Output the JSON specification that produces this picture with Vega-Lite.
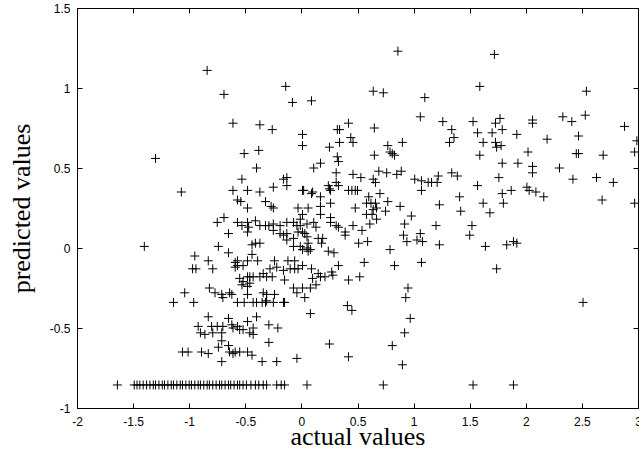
{
"$schema": "https://vega.github.io/schema/vega-lite/v6.json",
"width": 561, "height": 400,
"autosize": {"type": "none"},
"padding": {"left": 77, "top": 8, "right": 1, "bottom": 45},
"background": "white",
"config": {"view": {"stroke": "black", "strokeWidth": 1}, "axis": {"grid": false, "domain": false, "tickColor": "black", "tickSize": 5, "offset": -5, "tickWidth": 1, "labelFont": "Liberation Sans", "labelFontSize": 12, "labelColor": "black", "labelFlush": false, "labelOverlap": false, "titleFont": "Liberation Serif", "titleFontSize": 26, "titleFontWeight": "normal", "titleColor": "black"}},
"data": {"values": [
{"x":-0.84,"y":1.11},{"x":-0.69,"y":0.96},{"x":-0.14,"y":1.01},{"x":-0.08,"y":0.91},{"x":0.09,"y":0.92},{"x":0.86,"y":1.23},{"x":1.72,"y":1.21},{"x":1.59,"y":1.01},{"x":2.54,"y":0.98},{"x":0.64,"y":0.98},{"x":0.73,"y":0.97},{"x":1.10,"y":0.94},{"x":1.06,"y":0.82},{"x":2.53,"y":0.83},{"x":-0.61,"y":0.78},{"x":-0.37,"y":0.77},{"x":-0.26,"y":0.74},{"x":0.42,"y":0.78},{"x":0.32,"y":0.74},{"x":0.34,"y":0.74},{"x":0.65,"y":0.75},{"x":1.26,"y":0.79},{"x":1.34,"y":0.74},{"x":1.53,"y":0.79},{"x":1.73,"y":0.78},{"x":1.77,"y":0.81},{"x":1.79,"y":0.74},{"x":2.06,"y":0.80},{"x":2.06,"y":0.78},{"x":2.33,"y":0.82},{"x":2.41,"y":0.79},{"x":2.88,"y":0.76},{"x":0.01,"y":0.71},{"x":0.44,"y":0.69},{"x":0.46,"y":0.66},{"x":0.34,"y":0.66},{"x":0.25,"y":0.63},{"x":0.01,"y":0.64},{"x":0.77,"y":0.64},{"x":0.90,"y":0.66},{"x":1.36,"y":0.69},{"x":1.32,"y":0.66},{"x":1.57,"y":0.72},{"x":1.62,"y":0.66},{"x":1.70,"y":0.72},{"x":1.73,"y":0.66},{"x":1.78,"y":0.64},{"x":1.74,"y":0.63},{"x":1.92,"y":0.71},{"x":2.19,"y":0.68},{"x":2.47,"y":0.70},{"x":2.99,"y":0.67},{"x":2.97,"y":0.60},{"x":2.02,"y":0.60},{"x":2.45,"y":0.59},{"x":2.47,"y":0.59},{"x":2.69,"y":0.58},{"x":-0.51,"y":0.59},{"x":-0.38,"y":0.61},{"x":-1.30,"y":0.56},{"x":0.32,"y":0.57},{"x":0.33,"y":0.54},{"x":0.65,"y":0.58},{"x":0.79,"y":0.60},{"x":0.81,"y":0.59},{"x":0.83,"y":0.58},{"x":1.59,"y":0.58},
{"x":-0.40,"y":0.50},{"x":0.11,"y":0.50},{"x":0.17,"y":0.53},{"x":-0.53,"y":0.43},{"x":-0.16,"y":0.43},{"x":-0.13,"y":0.44},{"x":-0.13,"y":0.39},{"x":0.31,"y":0.47},{"x":0.31,"y":0.41},{"x":-1.07,"y":0.35},{"x":-0.61,"y":0.36},{"x":-0.48,"y":0.36},{"x":-0.37,"y":0.35},{"x":-0.25,"y":0.38},{"x":0.01,"y":0.36},{"x":0.09,"y":0.34},{"x":0.10,"y":0.35},{"x":0.17,"y":0.32},{"x":0.25,"y":0.37},{"x":0.26,"y":0.36},{"x":-0.57,"y":0.30},{"x":-0.54,"y":0.29},{"x":-0.48,"y":0.25},{"x":-0.32,"y":0.29},{"x":-0.27,"y":0.26},{"x":-0.25,"y":0.25},{"x":-0.03,"y":0.25},{"x":0.06,"y":0.25},{"x":0.17,"y":0.26},{"x":0.26,"y":0.28},{"x":1.79,"y":0.53},{"x":1.93,"y":0.53},{"x":2.06,"y":0.51},{"x":2.06,"y":0.47},{"x":2.30,"y":0.50},{"x":0.46,"y":0.46},{"x":0.53,"y":0.44},{"x":0.64,"y":0.43},{"x":0.66,"y":0.41},{"x":0.69,"y":0.48},{"x":0.76,"y":0.47},{"x":0.85,"y":0.46},{"x":0.89,"y":0.48},{"x":1.01,"y":0.43},{"x":1.07,"y":0.42},{"x":1.13,"y":0.41},{"x":1.16,"y":0.41},{"x":1.21,"y":0.41},{"x":1.22,"y":0.45},{"x":1.07,"y":0.36},{"x":1.34,"y":0.47},{"x":1.39,"y":0.45},{"x":1.57,"y":0.39},{"x":1.76,"y":0.44},{"x":2.42,"y":0.43},{"x":2.63,"y":0.44},{"x":2.78,"y":0.41},{"x":0.24,"y":0.39},{"x":0.33,"y":0.39},{"x":0.42,"y":0.36},{"x":0.45,"y":0.36},{"x":0.48,"y":0.36},{"x":0.50,"y":0.36},{"x":0.60,"y":0.32},{"x":0.58,"y":0.28},{"x":0.62,"y":0.28},{"x":0.66,"y":0.28},{"x":0.67,"y":0.25},{"x":0.70,"y":0.34},{"x":0.77,"y":0.29},{"x":0.88,"y":0.26},{"x":1.23,"y":0.27},{"x":1.41,"y":0.32},{"x":1.62,"y":0.28},{"x":1.79,"y":0.34},{"x":1.87,"y":0.36},{"x":2.01,"y":0.38},{"x":2.03,"y":0.36},{"x":2.09,"y":0.35},{"x":2.16,"y":0.32},{"x":1.80,"y":0.28},{"x":2.68,"y":0.30},{"x":2.97,"y":0.28},{"x":0.48,"y":0.25},{"x":0.02,"y":0.36},
{"x":1.42,"y":0.23},{"x":1.68,"y":0.22},{"x":0.01,"y":0.21},{"x":0.17,"y":0.21},{"x":-0.01,"y":0.14},{"x":0.05,"y":0.15},{"x":0.11,"y":0.16},{"x":0.13,"y":0.13},{"x":0.01,"y":0.10},{"x":0.03,"y":0.09},{"x":0.26,"y":0.19},{"x":0.26,"y":0.16},{"x":0.31,"y":0.14},{"x":0.33,"y":0.13},{"x":0.46,"y":0.14},{"x":0.39,"y":0.10},{"x":0.39,"y":0.08},{"x":0.54,"y":0.11},{"x":0.58,"y":0.21},{"x":0.63,"y":0.21},{"x":0.64,"y":0.24},{"x":0.67,"y":0.18},{"x":0.75,"y":0.23},{"x":0.61,"y":0.15},{"x":0.92,"y":0.15},{"x":0.98,"y":0.20},{"x":1.20,"y":0.14},{"x":1.52,"y":0.14},{"x":1.50,"y":0.08},{"x":0.91,"y":0.08},{"x":0.94,"y":0.04},{"x":1.03,"y":0.05},{"x":1.06,"y":0.09},{"x":1.08,"y":0.04},{"x":1.23,"y":0.02},{"x":1.64,"y":0.01},{"x":1.83,"y":0.02},{"x":1.89,"y":0.04},{"x":1.92,"y":0.03},{"x":0.05,"y":0.07},{"x":0.06,"y":0.03},{"x":0.15,"y":0.06},{"x":0.19,"y":0.06},{"x":0.18,"y":0.03},{"x":0.01,"y":-0.01},{"x":0.06,"y":-0.02},{"x":0.24,"y":-0.02},{"x":0.29,"y":-0.03},{"x":0.51,"y":0.03},{"x":0.59,"y":0.04},{"x":0.79,"y":-0.01},{"x":-0.01,"y":0.18},{"x":-0.75,"y":0.16},{"x":-0.69,"y":0.19},{"x":-0.65,"y":0.09},{"x":-0.57,"y":0.16},{"x":-0.53,"y":0.14},{"x":-0.48,"y":0.16},{"x":-0.47,"y":0.13},{"x":-0.41,"y":0.17},{"x":-0.37,"y":0.14},{"x":-0.32,"y":0.14},{"x":-0.29,"y":0.14},{"x":-0.25,"y":0.15},{"x":-0.19,"y":0.14},{"x":-0.13,"y":0.16},{"x":-0.07,"y":0.16},{"x":-0.04,"y":0.14},{"x":-0.48,"y":0.10},{"x":-0.25,"y":0.11},{"x":-0.19,"y":0.09},{"x":-0.16,"y":0.08},{"x":-0.13,"y":0.09},{"x":-0.13,"y":0.05},{"x":-0.07,"y":0.06},{"x":-0.07,"y":0.01},{"x":-0.03,"y":0.10},{"x":-0.01,"y":0.01},{"x":0.05,"y":0.00},{"x":-0.74,"y":0.01},{"x":-0.44,"y":0.02},{"x":-0.41,"y":0.03},{"x":-0.37,"y":0.03},{"x":-1.40,"y":0.01},
{"x":-0.65,"y":-0.03},{"x":-0.95,"y":-0.05},{"x":-0.83,"y":-0.08},{"x":-0.79,"y":-0.13},{"x":-0.97,"y":-0.13},{"x":-0.94,"y":-0.13},{"x":-0.59,"y":-0.09},{"x":-0.57,"y":-0.08},{"x":-0.57,"y":-0.11},{"x":-0.59,"y":-0.12},{"x":-0.52,"y":-0.11},{"x":-0.48,"y":-0.08},{"x":-0.44,"y":-0.04},{"x":-0.39,"y":-0.08},{"x":-0.55,"y":-0.19},{"x":-0.52,"y":-0.21},{"x":-0.53,"y":-0.23},{"x":-0.48,"y":-0.18},{"x":-0.46,"y":-0.18},{"x":-0.43,"y":-0.18},{"x":-0.37,"y":-0.18},{"x":-0.34,"y":-0.16},{"x":-0.31,"y":-0.18},{"x":-0.26,"y":-0.18},{"x":-0.46,"y":-0.22},{"x":-0.48,"y":-0.24},{"x":-0.28,"y":-0.13},{"x":-0.24,"y":-0.08},{"x":-0.22,"y":-0.12},{"x":-0.16,"y":-0.14},{"x":-0.12,"y":-0.08},{"x":-0.06,"y":-0.08},{"x":-0.06,"y":-0.13},{"x":-0.03,"y":-0.13},{"x":-0.10,"y":-0.13},{"x":-0.15,"y":-0.20},{"x":-0.07,"y":-0.25},{"x":-0.04,"y":-0.28},{"x":0.01,"y":-0.25},{"x":0.03,"y":-0.31},{"x":-1.04,"y":-0.28},{"x":-0.96,"y":-0.34},{"x":-0.82,"y":-0.25},{"x":-0.77,"y":-0.28},{"x":-0.71,"y":-0.29},{"x":-0.70,"y":-0.31},{"x":-0.64,"y":-0.28},{"x":-0.62,"y":-0.29},{"x":-0.57,"y":-0.34},{"x":-0.43,"y":-0.34},{"x":-0.35,"y":-0.34},{"x":-0.32,"y":-0.34},{"x":-0.25,"y":-0.34},{"x":-0.24,"y":-0.29},{"x":-0.16,"y":-0.34},{"x":-0.15,"y":-0.34},{"x":-0.48,"y":-0.29},{"x":-0.34,"y":-0.28},{"x":-0.31,"y":-0.29},{"x":-1.14,"y":-0.34},{"x":-0.51,"y":-0.34},{"x":-0.40,"y":-0.34},{"x":-0.31,"y":-0.33},{"x":0.08,"y":-0.01},{"x":0.33,"y":-0.11},{"x":0.09,"y":-0.13},{"x":0.15,"y":-0.16},{"x":0.17,"y":-0.18},{"x":0.10,"y":-0.19},{"x":0.21,"y":-0.18},{"x":0.27,"y":-0.15},{"x":0.28,"y":-0.17},{"x":0.13,"y":-0.23},{"x":0.42,"y":-0.20},{"x":0.52,"y":-0.18},{"x":0.56,"y":-0.09},{"x":0.83,"y":-0.11},{"x":1.07,"y":-0.09},{"x":1.74,"y":-0.13},{"x":0.01,"y":-0.11},{"x":0.08,"y":-0.25},{"x":0.95,"y":-0.25},{"x":0.93,"y":-0.31},{"x":2.51,"y":-0.34},
{"x":0.41,"y":-0.36},{"x":0.45,"y":-0.39},{"x":0.08,"y":-0.41},{"x":0.97,"y":-0.44},{"x":0.92,"y":-0.53},{"x":0.81,"y":-0.61},{"x":0.90,"y":-0.73},{"x":0.25,"y":-0.60},{"x":0.42,"y":-0.68},{"x":-0.83,"y":-0.43},{"x":-0.65,"y":-0.44},{"x":-0.40,"y":-0.43},{"x":-0.92,"y":-0.49},{"x":-0.90,"y":-0.53},{"x":-0.86,"y":-0.54},{"x":-0.80,"y":-0.49},{"x":-0.79,"y":-0.53},{"x":-0.75,"y":-0.49},{"x":-0.70,"y":-0.49},{"x":-0.71,"y":-0.53},{"x":-0.62,"y":-0.48},{"x":-0.61,"y":-0.50},{"x":-0.57,"y":-0.49},{"x":-0.55,"y":-0.51},{"x":-0.52,"y":-0.51},{"x":-0.48,"y":-0.46},{"x":-0.46,"y":-0.53},{"x":-0.43,"y":-0.50},{"x":-0.43,"y":-0.54},{"x":-0.29,"y":-0.48},{"x":-0.21,"y":-0.50},{"x":-0.29,"y":-0.59},{"x":-0.71,"y":-0.58},{"x":-0.74,"y":-0.62},{"x":-0.65,"y":-0.61},{"x":-0.64,"y":-0.65},{"x":-0.61,"y":-0.66},{"x":-0.59,"y":-0.65},{"x":-0.55,"y":-0.65},{"x":-0.48,"y":-0.65},{"x":-0.44,"y":-0.67},{"x":-0.35,"y":-0.71},{"x":-0.22,"y":-0.71},{"x":-0.04,"y":-0.69},{"x":-0.71,"y":-0.71},{"x":-1.06,"y":-0.65},{"x":-1.01,"y":-0.65},{"x":-0.89,"y":-0.65},{"x":-0.83,"y":-0.66},
{"x":-1.64,"y":-0.856},{"x":-1.49,"y":-0.856},{"x":-1.465,"y":-0.856},{"x":-1.44,"y":-0.856},{"x":-1.41,"y":-0.856},{"x":-1.38,"y":-0.856},{"x":-1.35,"y":-0.856},{"x":-1.32,"y":-0.856},{"x":-1.30,"y":-0.856},{"x":-1.27,"y":-0.856},{"x":-1.24,"y":-0.856},{"x":-1.22,"y":-0.856},{"x":-1.19,"y":-0.856},{"x":-1.16,"y":-0.856},{"x":-1.14,"y":-0.856},{"x":-1.11,"y":-0.856},{"x":-1.08,"y":-0.856},{"x":-1.06,"y":-0.856},{"x":-1.03,"y":-0.856},{"x":-1.00,"y":-0.856},{"x":-0.98,"y":-0.856},{"x":-0.95,"y":-0.856},{"x":-0.92,"y":-0.856},{"x":-0.90,"y":-0.856},{"x":-0.87,"y":-0.856},{"x":-0.84,"y":-0.856},{"x":-0.82,"y":-0.856},{"x":-0.79,"y":-0.856},{"x":-0.76,"y":-0.856},{"x":-0.73,"y":-0.856},{"x":-0.71,"y":-0.856},{"x":-0.68,"y":-0.856},{"x":-0.65,"y":-0.856},{"x":-0.63,"y":-0.856},{"x":-0.60,"y":-0.856},{"x":-0.57,"y":-0.856},{"x":-0.55,"y":-0.856},{"x":-0.52,"y":-0.856},{"x":-0.49,"y":-0.856},{"x":-0.45,"y":-0.856},{"x":-0.41,"y":-0.856},{"x":-0.38,"y":-0.856},{"x":-0.34,"y":-0.856},{"x":-0.31,"y":-0.856},{"x":-0.22,"y":-0.856},{"x":-0.18,"y":-0.856},{"x":-0.15,"y":-0.856},{"x":0.05,"y":-0.856},{"x":0.73,"y":-0.856},{"x":1.53,"y":-0.856},{"x":1.89,"y":-0.856}
]},
"layer": [
 {"mark": {"type": "point", "shape": "M-1,0H1M0,-1V1", "size": 81, "filled": false, "stroke": "black", "strokeWidth": 1, "opacity": 1},
  "encoding": {
   "x": {"field": "x", "type": "quantitative", "scale": {"domain": [-2, 3], "nice": false, "zero": false}, "axis": {"orient": "bottom", "values": [-2,-1.5,-1,-0.5,0,0.5,1,1.5,2,2.5,3], "labelExpr": "datum.value + ''", "labelPadding": 8, "title": "actual values", "titlePadding": -4}},
   "y": {"field": "y", "type": "quantitative", "scale": {"domain": [-1, 1.5], "nice": false, "zero": false}, "axis": {"orient": "left", "values": [-1,-0.5,0,0.5,1,1.5], "labelExpr": "datum.value + ''", "labelPadding": 7, "title": "predicted values", "titlePadding": 15}}
  }},
 {"mark": {"type": "point", "opacity": 0},
  "encoding": {
   "x": {"field": "x", "type": "quantitative", "axis": {"orient": "top", "values": [-2,-1.5,-1,-0.5,0,0.5,1,1.5,2,2.5,3], "labels": false, "title": null}},
   "y": {"field": "y", "type": "quantitative", "axis": {"orient": "right", "values": [-1,-0.5,0,0.5,1,1.5], "labels": false, "title": null}}
  }}
],
"resolve": {"axis": {"x": "independent", "y": "independent"}}
}
